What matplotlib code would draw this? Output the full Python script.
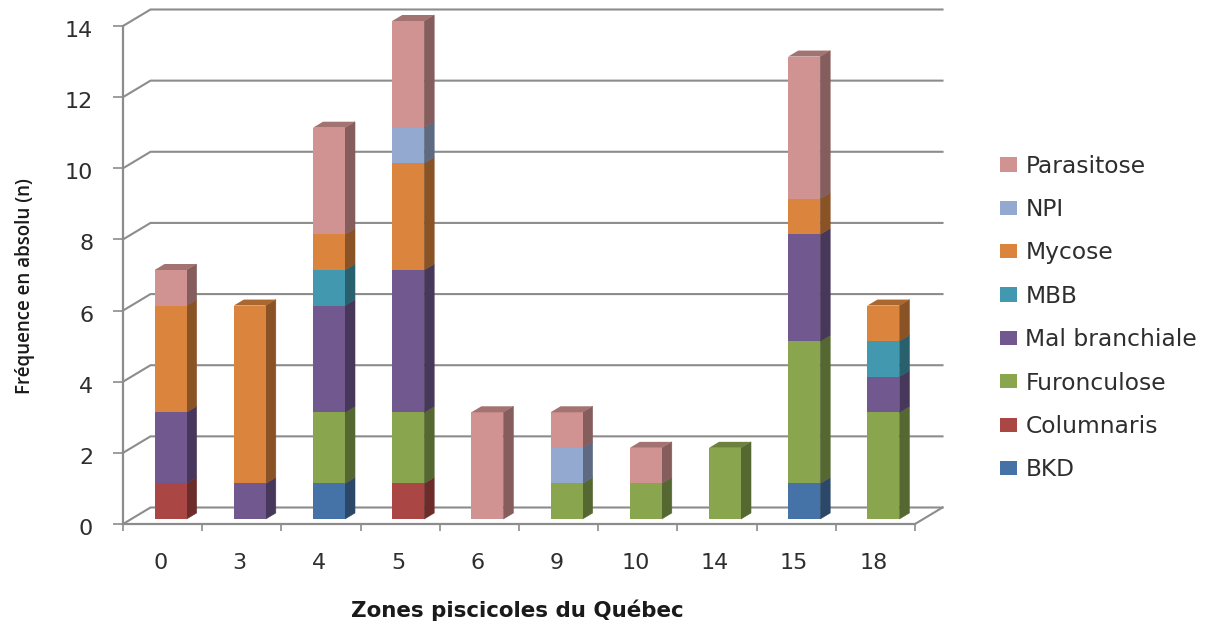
import matplotlib
matplotlib.use("Agg")
import matplotlib.pyplot as plt
from matplotlib.patches import Patch
from matplotlib.colors import to_rgb
from matplotlib.transforms import ScaledTranslation

zones = ["0", "3", "4", "5", "6", "9", "10", "14", "15", "18"]
yticks = [0, 2, 4, 6, 8, 10, 12, 14]

bkd = [0, 0, 1, 0, 0, 0, 0, 0, 1, 0]
columnaris = [1, 0, 0, 1, 0, 0, 0, 0, 0, 0]
furonculose = [0, 0, 2, 2, 0, 1, 1, 2, 4, 3]
mal_branchiale = [2, 1, 3, 4, 0, 0, 0, 0, 3, 1]
mbb = [0, 0, 1, 0, 0, 0, 0, 0, 0, 1]
mycose = [3, 5, 1, 3, 0, 0, 0, 0, 1, 1]
npi = [0, 0, 0, 1, 0, 1, 0, 0, 0, 0]
parasitose = [1, 0, 3, 3, 3, 1, 1, 0, 4, 0]

noms = ["BKD", "Columnaris", "Furonculose", "Mal branchiale", "MBB", "Mycose", "NPI", "Parasitose"]
series = [bkd, columnaris, furonculose, mal_branchiale, mbb, mycose, npi, parasitose]
couleurs = ["#4572A7", "#AA4643", "#89A54E", "#71588F", "#4198AF", "#DB843D", "#93A9CF", "#D19392"]

W, H = 1209, 624
GRIS = "#8C8C8C"
TEXTE = "#2e2e2e"

fig = plt.figure(figsize=(W / 100, H / 100), dpi=100)
# plan avant du graphique, en pixels
x0, x1, y_top, y_bas = 123, 915, 26, 524
ax = fig.add_axes([x0 / W, 1 - y_bas / H, (x1 - x0) / W, (y_bas - y_top) / H])
ax.set_xlim(-0.5, 9.5)
ax.set_ylim(0, 14)

# conversion pixels -> unites de donnees pour la profondeur
ux = 10 / (x1 - x0)
uy = 14 / (y_bas - y_top)


def ombre(c, k):
    return tuple(v * k for v in to_rgb(c))


# parois du fond
prof_x, prof_y = 27.5 * ux, 16.5 * uy
for v in yticks:
    ax.plot([-0.5, -0.5 + prof_x, 9.5 + prof_x], [v, v + prof_y, v + prof_y],
            color=GRIS, lw=1.5, clip_on=False, zorder=1, solid_joinstyle="miter")
ax.plot([9.5, 9.5 + prof_x], [0, prof_y], color=GRIS, lw=1.5, clip_on=False, zorder=1)

# barres empilees avec face laterale et dessus
larg = 32 * ux
dx, dy = 10 * ux, 6 * uy
decal_x, decal_y = 8 * ux, 5 * uy
cumul = [0] * len(zones)
for s, c in zip(series, couleurs):
    for i, v in enumerate(s):
        if v == 0:
            continue
        b = cumul[i] + decal_y
        xg = i + decal_x - larg / 2
        xd = xg + larg
        ax.fill([xd, xd + dx, xd + dx, xd], [b, b + dy, b + v + dy, b + v],
                facecolor=ombre(c, 0.63), edgecolor=ombre(c, 0.63), linewidth=0.4,
                clip_on=False, zorder=3)
        ax.bar(xg + larg / 2, v, width=larg, bottom=b, color=c, linewidth=0, clip_on=False, zorder=3.5)
        cumul[i] += v

# dessus de chaque pile, couleur de la derniere serie non nulle
for i in range(len(zones)):
    for s, c in zip(series[::-1], couleurs[::-1]):
        if s[i] > 0:
            h = cumul[i] + decal_y
            xg = i + decal_x - larg / 2
            xd = xg + larg
            ax.fill([xg, xg + dx, xd + dx, xd], [h, h + dy, h + dy, h],
                    color=ombre(c, 0.78), linewidth=0, clip_on=False, zorder=4)
            break

# axes
for cote in ["top", "right"]:
    ax.spines[cote].set_visible(False)
for cote in ["left", "bottom"]:
    ax.spines[cote].set_color(GRIS)
    ax.spines[cote].set_linewidth(1.6)
ax.set_yticks(yticks)
ax.tick_params(axis="y", length=7, width=1.2, color=GRIS, pad=14.5, labelsize=16, labelcolor=TEXTE)
ax.set_xticks([i - 0.5 for i in range(len(zones) + 1)])
ax.set_xticklabels([])
ax.tick_params(axis="x", which="major", length=5, width=1.2, color=GRIS)
ax.set_xticks(range(len(zones)), zones, minor=True)
ax.tick_params(axis="x", which="minor", length=0, pad=21, labelsize=16, labelcolor=TEXTE)

# petits decalages des etiquettes de graduation
for lab in ax.get_yticklabels():
    lab.set_transform(lab.get_transform() + ScaledTranslation(0, -3 / 100, fig.dpi_scale_trans))
for lab in ax.get_xticklabels(minor=True):
    lab.set_transform(lab.get_transform() + ScaledTranslation(-2 / 100, 0, fig.dpi_scale_trans))

fig.text(517 / W, 1 - 610 / H, "Zones piscicoles du Québec", fontsize=15.4, fontweight="bold",
         color="#1a1a1a", ha="center", va="center")
fig.text(25 / W, 1 - 286 / H, "Fréquence en absolu (n)", fontsize=13.5, fontweight="semibold",
         family="Open Sans", color="#1a1a1a", rotation=90, ha="center", va="center")

poignees = [Patch(facecolor=c, label=n) for n, c in zip(noms[::-1], couleurs[::-1])]
ax.legend(handles=poignees, loc="center left", bbox_to_anchor=(1000 / W, 1 - 318 / H),
          bbox_transform=fig.transFigure, frameon=False, fontsize=16.8, labelcolor=TEXTE,
          handlelength=0.73, handleheight=0.56, handletextpad=0.36, labelspacing=0.873,
          borderpad=0, borderaxespad=0)

fig.savefig("out.png", dpi=100)
